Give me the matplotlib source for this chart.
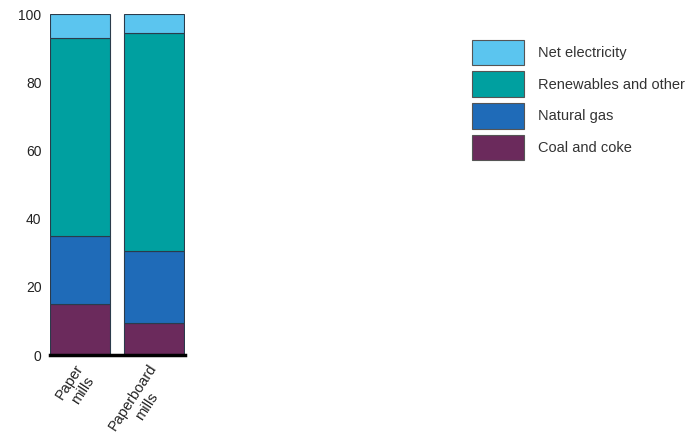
import numpy as np
import matplotlib.pyplot as plt
import matplotlib.transforms as mtransforms
from matplotlib.patches import Patch

plt.rcParams['font.family'] = ['Liberation Sans', 'DejaVu Sans']

mills = ['Paper\nmills', 'Paperboard\nmills']
coal = [15, 9.5]
gas = [20, 21]
renew = [58, 64]
elec = [7, 5.5]

series = ['Coal and coke', 'Natural gas', 'Renewables and other', 'Net electricity']
colors = ['#6b2a5c', '#1f6bb8', '#00a0a0', '#5bc5ef']


def main():
    fig = plt.figure(figsize=(6.92, 4.40), dpi=100)
    ax = fig.add_axes([0.072, 0.193, 0.195, 0.775])

    x = np.arange(len(mills))
    bottom = np.zeros(len(mills))
    for vals, col in zip([coal, gas, renew, elec], colors):
        ax.bar(x, vals, 0.82, bottom=bottom, color=col, edgecolor='#2b3b4b', linewidth=0.8)
        bottom = bottom + np.array(vals)

    ax.set_xlim(-0.415, 1.42)
    ax.set_ylim(0, 100)
    ax.set_yticks([0, 20, 40, 60, 80, 100])
    ax.tick_params(axis='y', length=0, labelsize=10, pad=6, labelcolor='#222222')
    ax.tick_params(axis='x', length=0, labelsize=10.5, pad=4, labelcolor='#222222')
    ax.set_xticks(x)
    ax.set_xticklabels(mills, rotation=57, ha='right', va='top', rotation_mode='anchor',
                       multialignment='center')
    shift = mtransforms.ScaledTranslation(-6 / 100, -1 / 100, fig.dpi_scale_trans)
    for lbl in ax.get_xticklabels():
        lbl.set_transform(lbl.get_transform() + shift)

    for s in ['top', 'right', 'left']:
        ax.spines[s].set_visible(False)
    ax.spines['bottom'].set_linewidth(2.5)
    ax.spines['bottom'].set_color('black')

    handles = [Patch(facecolor=c, edgecolor='#555555', linewidth=0.8) for c in colors[::-1]]
    leg = fig.legend(handles, series[::-1], loc='upper left', bbox_to_anchor=(0.682, 0.91),
                     frameon=False, fontsize=10.5, handlelength=3.55, handleheight=2.35,
                     labelspacing=0.4, handletextpad=1.0, borderaxespad=0, borderpad=0)
    for t in leg.get_texts():
        t.set_color('#333333')

    fig.savefig('out.png', dpi=100)


if __name__ == "__main__":
    main()
